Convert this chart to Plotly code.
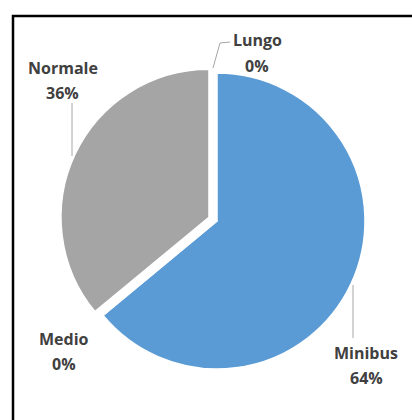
import plotly.graph_objects as go

# Vehicle categories (clockwise from 12 o'clock) and their shares
labels = ["Lungo", "Minibus", "Medio", "Normale"]
values = [0, 64, 0, 36]
colors = ["#ED7D31", "#5B9BD5", "#FFC000", "#A5A5A5"]
pulls = [0, 0, 0, 0.06]

W, H = 412, 420

# Pie geometry in pixels
cx, cy, r = 217, 221, 148
half = r * (1 + max(pulls))

def px(x):
    return x / W

def py(y):
    return 1 - y / H

fig = go.Figure(
    go.Pie(
        labels=labels,
        values=values,
        sort=False,
        direction="clockwise",
        rotation=0,
        pull=pulls,
        marker=dict(colors=colors, line=dict(color="white", width=1.5)),
        textinfo="none",
        hoverinfo="label+percent",
        domain=dict(x=[px(cx - half), px(cx + half)], y=[py(cy + half), py(cy - half)]),
        showlegend=False,
    )
)

total = sum(values)
pct = {lab: f"{round(100 * v / total)}%" for lab, v in zip(labels, values)}

# Data label positions (pixel centres of the two-line block)
label_pos = {
    "Lungo": (257, 53),
    "Normale": (63, 80),
    "Medio": (64, 351),
    "Minibus": (366, 365),
}
line_gap = 25
label_font = dict(family="Open Sans", size=16, color="#404040")

annotations = []
for lab, (x, y) in label_pos.items():
    for text, yy in ((lab, y - line_gap / 2), (pct[lab], y + line_gap / 2)):
        annotations.append(
            dict(
                x=px(x), y=py(yy), xref="paper", yref="paper",
                text=f"<b>{text}</b>",
                showarrow=False, xanchor="center", yanchor="middle",
                font=label_font,
            )
        )

# Leader lines from the slices to their labels
leaders = [
    [(213, 68), (220, 43), (230, 42)],
    [(72, 103), (72, 156)],
    [(353, 285), (353, 338)],
]
shapes = []
for pts in leaders:
    path = "M " + " L ".join(f"{px(x)},{py(y)}" for x, y in pts)
    shapes.append(dict(type="path", xref="paper", yref="paper", path=path,
                       line=dict(color="#A6A6A6", width=1)))

# Chart frame
shapes.append(dict(type="rect", xref="paper", yref="paper",
                   x0=px(13), x1=px(W + 10), y0=py(H + 10), y1=py(16),
                   line=dict(color="black", width=2.5), fillcolor="rgba(0,0,0,0)"))

fig.update_layout(
    width=W, height=H,
    margin=dict(l=0, r=0, t=0, b=0),
    paper_bgcolor="white",
    plot_bgcolor="white",
    annotations=annotations,
    shapes=shapes,
)

fig.write_html("out.html")
